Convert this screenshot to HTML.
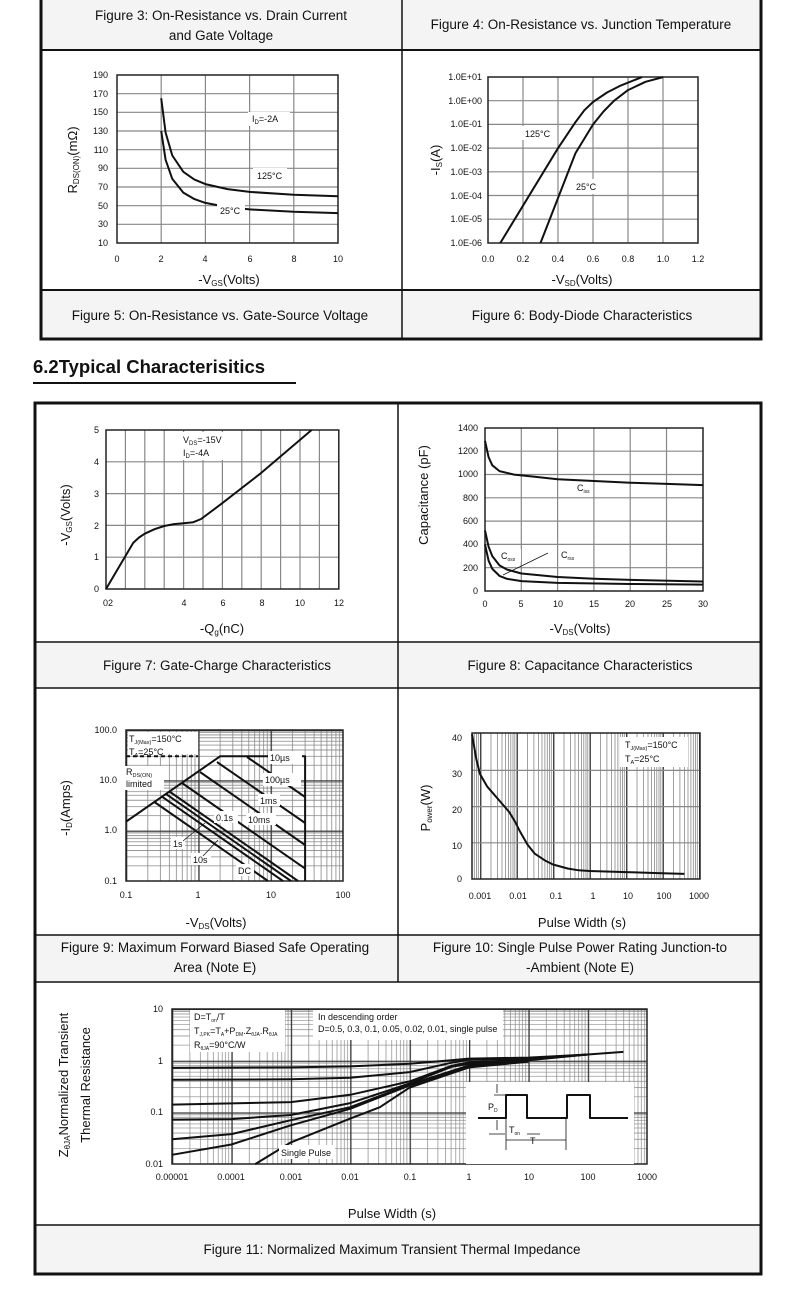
<!DOCTYPE html>
<html><head><meta charset="utf-8">
<style>
html,body{margin:0;padding:0;background:#fff;}
svg{display:block;font-family:"Liberation Sans",Arial,sans-serif;}
.t{font-size:9px;fill:#111;}
.c{font-size:13.5px;fill:#111;text-anchor:middle;}
.a{font-size:13px;fill:#111;text-anchor:middle;}
.k{fill:none;stroke:#111;stroke-width:2;stroke-linejoin:round;}
.g{fill:none;stroke:#888;stroke-width:1.2;}
.w{fill:#fff;}
</style></head>
<body>
<svg width="790" height="1297" viewBox="0 0 790 1297" xmlns="http://www.w3.org/2000/svg">
<defs>
<pattern id="p9" patternUnits="userSpaceOnUse" x="126" y="730" width="72.3" height="50.3">
<path d="M21.8 0V50.3M34.5 0V50.3M43.5 0V50.3M50.5 0V50.3M56.3 0V50.3M61.1 0V50.3M65.3 0V50.3M69 0V50.3M0 2.3H72.3M0 4.9H72.3M0 7.8H72.3M0 11.2H72.3M0 15.1H72.3M0 20H72.3M0 26.3H72.3M0 35.2H72.3" stroke="#888" stroke-width="0.8" fill="none"/>
<path d="M0.6 0V50.3M0 0.6H72.3" stroke="#333" stroke-width="1.4" fill="none"/>
</pattern>
<pattern id="p10" patternUnits="userSpaceOnUse" x="443.5" y="733" width="36.5" height="146">
<path d="M11 0V146M17.4 0V146M22 0V146M25.5 0V146M28.4 0V146M30.8 0V146M33 0V146M34.8 0V146" stroke="#888" stroke-width="0.8" fill="none"/>
<path d="M0.7 0V146" stroke="#444" stroke-width="1.5" fill="none"/>
</pattern>
<pattern id="p11" patternUnits="userSpaceOnUse" x="172" y="1009" width="59.4" height="51.7">
<path d="M17.9 0V51.7M28.3 0V51.7M35.8 0V51.7M41.5 0V51.7M46.2 0V51.7M50.2 0V51.7M53.6 0V51.7M56.7 0V51.7M0 2.4H59.4M0 5H59.4M0 8H59.4M0 11.5H59.4M0 15.6H59.4M0 20.6H59.4M0 27H59.4M0 36.1H59.4" stroke="#888" stroke-width="0.7" fill="none"/>
<path d="M0.6 0V51.7M0 0.6H59.4" stroke="#333" stroke-width="1.4" fill="none"/>
</pattern>
</defs>
<rect width="790" height="1297" fill="#fff"/>
<rect x="40" y="0" width="722" height="50" fill="#f4f4f4"/>
<rect x="40" y="290" width="722" height="50" fill="#f4f4f4"/>
<rect x="34" y="642" width="728" height="46" fill="#f4f4f4"/>
<rect x="34" y="935" width="728" height="47" fill="#f4f4f4"/>
<rect x="34" y="1225" width="728" height="50" fill="#f4f4f4"/>

<!-- grids -->
<path class="g" d="M161.2 75V243M205.4 75V243M249.6 75V243M293.8 75V243M117 93.7H338M117 112.3H338M117 131H338M117 149.7H338M117 168.3H338M117 187H338M117 205.7H338M117 224.3H338"/>
<rect x="117" y="75" width="221" height="168" fill="none" stroke="#222" stroke-width="1.5"/>
<path class="g" d="M523 77V243M558 77V243M593 77V243M628 77V243M663 77V243M488 100.7H698M488 124.4H698M488 148.1H698M488 171.8H698M488 195.5H698M488 219.2H698"/>
<rect x="488" y="77" width="210" height="166" fill="none" stroke="#222" stroke-width="1.5"/>
<path class="g" stroke="#777" stroke-width="1.3" d="M125.4 430V589M144.8 430V589M164.2 430V589M183.6 430V589M203 430V589M222.4 430V589M241.8 430V589M261.2 430V589M280.6 430V589M300 430V589M319.4 430V589M106 557.2H338.8M106 525.4H338.8M106 493.6H338.8M106 461.8H338.8"/>
<rect x="106" y="430" width="232.8" height="159" fill="none" stroke="#222" stroke-width="1.5"/>
<path class="g" d="M521.3 428V591M557.6 428V591M593.9 428V591M630.2 428V591M666.5 428V591M485 567.7H703M485 544.4H703M485 521.1H703M485 497.8H703M485 474.5H703M485 451.2H703"/>
<rect x="485" y="428" width="218" height="163" fill="none" stroke="#222" stroke-width="1.5"/>
<rect x="126" y="730" width="217" height="151" fill="url(#p9)"/>
<rect x="126" y="730" width="217" height="151" fill="none" stroke="#222" stroke-width="1.5"/>
<rect x="472" y="733" width="228" height="146" fill="url(#p10)"/>
<path class="g" d="M472 842.8H700M472 806.6H700M472 770.4H700"/>
<rect x="472" y="733" width="228" height="146" fill="none" stroke="#222" stroke-width="1.5"/>
<rect x="172" y="1009" width="475" height="155" fill="url(#p11)"/>
<rect x="172" y="1009" width="475" height="155" fill="none" stroke="#222" stroke-width="1.5"/>

<!-- frames -->
<g fill="none" stroke="#111">
<rect x="41" y="-2" width="720" height="341" stroke-width="3"/>
<line x1="402" y1="0" x2="402" y2="340" stroke-width="1.5"/>
<line x1="40" y1="50" x2="762" y2="50" stroke-width="2"/>
<line x1="40" y1="290" x2="762" y2="290" stroke-width="2"/>
<rect x="35" y="403" width="726" height="871" stroke-width="3"/>
<line x1="398" y1="403" x2="398" y2="982" stroke-width="1.5"/>
<line x1="34" y1="642" x2="762" y2="642" stroke-width="1.5"/>
<line x1="34" y1="688" x2="762" y2="688" stroke-width="1.5"/>
<line x1="34" y1="935" x2="762" y2="935" stroke-width="1.5"/>
<line x1="34" y1="982" x2="762" y2="982" stroke-width="1.5"/>
<line x1="34" y1="1225" x2="762" y2="1225" stroke-width="1.5"/>
</g>

<!-- curves -->
<path class="k" d="M161.2 98.3L165.6 132.6L172.3 155.5L183.3 171.8L194.4 179.6L205.4 184.1L227.5 189.1L249.6 191.9L293.8 194.8L338 196.3"/>
<path class="k" d="M161.2 131L165.6 159.8L172.3 178.9L183.3 192.6L194.4 199.1L205.4 202.9L227.5 207.1L249.6 209.4L293.8 211.8L338 213.1"/>
<path class="k" d="M500.3 243L558 148.2L575.5 122.1L584.3 110.3L593 102L607 92.5L621 85.4L642 77.1"/>
<path class="k" d="M540.5 243L575.5 153.1L593 124.5L603.5 111.5L614 100.8L628 90.1L645.5 81.8L663 77.1"/>
<path class="k" stroke-width="1.8" d="M106 589L133.2 542.9L139 537.5L144.8 533.7L154.5 529.2L164.2 526L173.9 524.1L183.6 523.2L193.3 522.2L201.1 519L222.4 503.1L261.2 472.9L311.6 430"/>
<path class="k" d="M485 440.8L488.6 457.1L492.3 465.3L499.5 471.1L514.1 474.6L535.9 476.9L557.7 479.3L594.1 481L630.4 482.7L666.8 483.9L703.1 485.1"/>
<path class="k" d="M485 530.5L488.6 546.8L492.3 556.1L499.5 565.4L506.8 569.5L521.4 573.5L557.7 577L594.1 578.8L630.4 579.9L703.1 581.5"/>
<path class="k" d="M485 544.4L488.6 560.7L492.3 568.9L499.5 575.9L506.8 578.8L521.4 581.1L557.7 582.9L630.4 584L703.1 584.6"/>
<line x1="503" y1="575" x2="548" y2="553" stroke="#111" stroke-width="0.7"/>
<!-- fig9 -->
<path class="k" stroke-dasharray="4,3" d="M126 756.3H198"/>
<path class="k" stroke-width="2.4" d="M126 821.7L220.1 756.3H305.1V881"/>
<path class="k" d="M247 757L305.1 797M217 762L305.1 823M200 772L305.1 845M182 783L305.1 868.6M169.4 791.5L298 881M165.9 793.9L291 881M162 796.7L283 881M154.4 802L268 881"/>
<!-- fig10 -->
<path class="k" stroke-width="1.8" d="M472 734.2L476.4 759.5L480 774L487.3 786.7L498.3 799.4L509.2 812L514.7 821.1L520.2 831.9L527.5 844.6L534.8 853.7L545.7 860.9L553 864.5L567.6 868.5L578.6 870.3L589.5 871L626 872.1L662.5 873.2L684.4 873.9"/>
<!-- fig11 -->
<g class="k" stroke-width="1.8">
<path d="M172 1067.9L290.8 1067.4L350.2 1066.4L409.6 1063.8L451.2 1060.2L469 1058.6L528.4 1057.6L587.8 1054.5L623.4 1051.9"/>
<path d="M172 1079.8L290.8 1079.3L350.2 1077.8L409.6 1072.1L451.2 1062.8L469 1059.7L528.4 1058.6L587.8 1054.5"/>
<path d="M172 1104.6L290.8 1102.1L350.2 1094.8L409.6 1081.4L451.2 1065.9L469 1062.3L528.4 1059.7L587.8 1054.5"/>
<path d="M172 1119.6L231.4 1119.1L290.8 1115L350.2 1103.1L409.6 1083.5L451.2 1066.9L469 1063.8L528.4 1060.2L587.8 1054.5"/>
<path d="M172 1139.3L231.4 1134.1L290.8 1120.2L350.2 1107.2L409.6 1084.5L469 1065.4L528.4 1060.7"/>
<path d="M172 1154.8L231.4 1144.5L290.8 1125.3L350.2 1108.8L409.6 1085.5L469 1066.4L528.4 1060.7"/>
<path d="M255.2 1164.1L290.8 1142.4L350.2 1118.6L379.9 1107.2L409.6 1087.6L469 1067.4L528.4 1061.7"/>
</g>

<!-- white label boxes -->
<rect class="w" x="248" y="112" width="42" height="14"/>
<rect class="w" x="253" y="168" width="34" height="14"/>
<rect class="w" x="217" y="203" width="28" height="12"/>
<rect class="w" x="522" y="126" width="32" height="14"/>
<rect class="w" x="573" y="179" width="40" height="15"/>
<rect class="w" x="180" y="432" width="50" height="28"/>
<rect class="w" x="499" y="549" width="22" height="13"/>
<rect class="w" x="559" y="548" width="22" height="13"/>
<rect class="w" x="128" y="732" width="70" height="22"/>
<rect class="w" x="124" y="766" width="40" height="24"/>
<rect class="w" x="268" y="751" width="34" height="13"/>
<rect class="w" x="263" y="773" width="38" height="13"/>
<rect class="w" x="258" y="794" width="22" height="12"/>
<rect class="w" x="214" y="811" width="24" height="12"/>
<rect class="w" x="246" y="813" width="30" height="12"/>
<rect class="w" x="171" y="837" width="14" height="12"/>
<rect class="w" x="191" y="853" width="20" height="12"/>
<rect class="w" x="236" y="864" width="18" height="12"/>
<line x1="183" y1="841" x2="205" y2="823" stroke="#111" stroke-width="0.7"/>
<line x1="203" y1="856" x2="218" y2="840" stroke="#111" stroke-width="0.7"/>
<rect class="w" x="620" y="737" width="68" height="30"/>
<rect class="w" x="190" y="1010" width="95" height="42"/>
<rect class="w" x="313" y="1010" width="190" height="30"/>
<rect class="w" x="279" y="1145" width="56" height="14"/>
<rect class="w" x="466" y="1082" width="168" height="82"/>
<path class="k" stroke-width="1.8" d="M478 1118H506V1095H527V1118H567V1095H590V1118H628"/>
<path fill="none" stroke="#111" stroke-width="0.8" d="M494 1095H506M497 1084V1093M497 1120V1130M489 1134H505M527 1134H540M506 1140H566M506 1118V1150M566 1118V1150"/>

<!-- captions -->
<text class="c" x="221" y="20">Figure 3: On-Resistance vs. Drain Current</text>
<text class="c" x="221" y="40">and Gate Voltage</text>
<text class="c" x="581" y="29">Figure 4: On-Resistance vs. Junction Temperature</text>
<text class="c" x="220" y="320">Figure 5: On-Resistance vs. Gate-Source Voltage</text>
<text class="c" x="582" y="320">Figure 6: Body-Diode Characteristics</text>
<text class="c" x="217" y="670">Figure 7: Gate-Charge Characteristics</text>
<text class="c" x="580" y="670">Figure 8: Capacitance Characteristics</text>
<text class="c" x="215" y="952">Figure 9: Maximum Forward Biased Safe Operating</text>
<text class="c" x="215" y="972">Area (Note E)</text>
<text class="c" x="580" y="952">Figure 10: Single Pulse Power Rating Junction-to</text>
<text class="c" x="580" y="972">-Ambient (Note E)</text>
<text class="c" x="392" y="1254">Figure 11: Normalized Maximum Transient Thermal Impedance</text>

<!-- fig3 labels -->
<g class="t" text-anchor="end">
<text x="108" y="78">190</text><text x="108" y="97">170</text><text x="108" y="115">150</text><text x="108" y="134">130</text><text x="108" y="153">110</text><text x="108" y="171">90</text><text x="108" y="190">70</text><text x="108" y="209">50</text><text x="108" y="227">30</text><text x="108" y="246">10</text>
</g>
<g class="t" text-anchor="middle">
<text x="117" y="262">0</text><text x="161" y="262">2</text><text x="205" y="262">4</text><text x="250" y="262">6</text><text x="294" y="262">8</text><text x="338" y="262">10</text>
</g>
<text class="a" x="229" y="284">-V<tspan font-size="8" dy="2">GS</tspan><tspan dy="-2">(Volts)</tspan></text>
<text class="a" transform="translate(77,160) rotate(-90)">R<tspan font-size="8" dy="2">DS(ON)</tspan><tspan dy="-2">(mΩ)</tspan></text>
<text class="t" x="252" y="122">I<tspan font-size="6" dy="2">D</tspan><tspan dy="-2">=-2A</tspan></text>
<text class="t" x="257" y="179">125°C</text>
<text class="t" x="220" y="214">25°C</text>

<!-- fig4 labels -->
<g class="t" font-size="8" text-anchor="end">
<text x="482" y="80">1.0E+01</text><text x="482" y="104">1.0E+00</text><text x="482" y="127">1.0E-01</text><text x="482" y="151">1.0E-02</text><text x="482" y="175">1.0E-03</text><text x="482" y="199">1.0E-04</text><text x="482" y="222">1.0E-05</text><text x="482" y="246">1.0E-06</text>
</g>
<g class="t" text-anchor="middle">
<text x="488" y="262">0.0</text><text x="523" y="262">0.2</text><text x="558" y="262">0.4</text><text x="593" y="262">0.6</text><text x="628" y="262">0.8</text><text x="663" y="262">1.0</text><text x="698" y="262">1.2</text>
</g>
<text class="a" x="582" y="284">-V<tspan font-size="8" dy="2">SD</tspan><tspan dy="-2">(Volts)</tspan></text>
<text class="a" transform="translate(440,160) rotate(-90)">-I<tspan font-size="8" dy="2">S</tspan><tspan dy="-2">(A)</tspan></text>
<text class="t" x="525" y="137">125°C</text>
<text class="t" x="576" y="190">25°C</text>

<!-- heading -->
<text x="33" y="373" font-size="18.5" font-weight="bold" fill="#111">6.2Typical Characterisitics</text>
<line x1="33" y1="383" x2="296" y2="383" stroke="#111" stroke-width="2"/>

<!-- fig7 -->
<g class="t" text-anchor="end">
<text x="99" y="433">5</text><text x="99" y="465">4</text><text x="99" y="497">3</text><text x="99" y="529">2</text><text x="99" y="560">1</text><text x="99" y="592">0</text>
</g>
<g class="t" text-anchor="middle">
<text x="108" y="606">02</text><text x="184" y="606">4</text><text x="223" y="606">6</text><text x="262" y="606">8</text><text x="300" y="606">10</text><text x="339" y="606">12</text>
</g>
<text class="a" x="222" y="633">-Q<tspan font-size="8" dy="2">g</tspan><tspan dy="-2">(nC)</tspan></text>
<text class="a" transform="translate(70,515) rotate(-90)">-V<tspan font-size="8" dy="2">GS</tspan><tspan dy="-2">(Volts)</tspan></text>
<text class="t" x="183" y="443">V<tspan font-size="6" dy="2">DS</tspan><tspan dy="-2">=-15V</tspan></text>
<text class="t" x="183" y="456">I<tspan font-size="6" dy="2">D</tspan><tspan dy="-2">=-4A</tspan></text>

<!-- fig8 -->
<g class="t" font-size="8.5" text-anchor="end">
<text x="478" y="431">1400</text><text x="478" y="454">1200</text><text x="478" y="477">1000</text><text x="478" y="501">800</text><text x="478" y="524">600</text><text x="478" y="547">400</text><text x="478" y="571">200</text><text x="478" y="594">0</text>
</g>
<g class="t" text-anchor="middle">
<text x="485" y="607">0</text><text x="521" y="607">5</text><text x="558" y="607">10</text><text x="594" y="607">15</text><text x="630" y="607">20</text><text x="667" y="607">25</text><text x="703" y="607">30</text>
</g>
<text class="a" x="580" y="633">-V<tspan font-size="8" dy="2">DS</tspan><tspan dy="-2">(Volts)</tspan></text>
<text class="a" transform="translate(428,495) rotate(-90)">Capacitance (pF)</text>
<text class="t" x="577" y="491">C<tspan font-size="5" dy="2">iss</tspan></text>
<text class="t" x="501" y="559">C<tspan font-size="5" dy="2">oss</tspan></text>
<text class="t" x="561" y="558">C<tspan font-size="5" dy="2">rss</tspan></text>

<!-- fig9 -->
<g class="t" text-anchor="end">
<text x="117" y="733">100.0</text><text x="117" y="783">10.0</text><text x="117" y="833">1.0</text><text x="117" y="884">0.1</text>
</g>
<g class="t" font-size="8.5" text-anchor="middle">
<text x="126" y="898">0.1</text><text x="198" y="898">1</text><text x="271" y="898">10</text><text x="343" y="898">100</text>
</g>
<text class="a" x="216" y="927">-V<tspan font-size="8" dy="2">DS</tspan><tspan dy="-2">(Volts)</tspan></text>
<text class="a" transform="translate(70,808) rotate(-90)">-I<tspan font-size="8" dy="2">D</tspan><tspan dy="-2">(Amps)</tspan></text>
<text class="t" x="129" y="742" font-size="8.5">T<tspan font-size="5.5" dy="2">J(Max)</tspan><tspan dy="-2">=150°C</tspan></text>
<text class="t" x="129" y="755" font-size="8.5">T<tspan font-size="5.5" dy="2">A</tspan><tspan dy="-2">=25°C</tspan></text>
<text class="t" x="126" y="775">R<tspan font-size="5.5" dy="2">DS(ON)</tspan></text>
<text class="t" x="126" y="787">limited</text>
<text class="t" x="270" y="761">10µs</text>
<text class="t" x="265" y="783">100µs</text>
<text class="t" x="260" y="804">1ms</text>
<text class="t" x="216" y="821">0.1s</text>
<text class="t" x="248" y="823">10ms</text>
<text class="t" x="173" y="847">1s</text>
<text class="t" x="193" y="863">10s</text>
<text class="t" x="238" y="874">DC</text>

<!-- fig10 -->
<g class="t" text-anchor="end">
<text x="462" y="741">40</text><text x="462" y="777">30</text><text x="462" y="813">20</text><text x="462" y="849">10</text><text x="462" y="882">0</text>
</g>
<g class="t" font-size="8" text-anchor="middle">
<text x="480" y="899">0.001</text><text x="518" y="899">0.01</text><text x="556" y="899">0.1</text><text x="593" y="899">1</text><text x="628" y="899">10</text><text x="664" y="899">100</text><text x="699" y="899">1000</text>
</g>
<text class="a" x="582" y="927">Pulse Width (s)</text>
<text class="a" transform="translate(430,808) rotate(-90)">P<tspan font-size="8" dy="2">ower</tspan><tspan dy="-2">(W)</tspan></text>
<text class="t" x="625" y="748">T<tspan font-size="5.5" dy="2">J(Max)</tspan><tspan dy="-2">=150°C</tspan></text>
<text class="t" x="625" y="762">T<tspan font-size="5.5" dy="2">A</tspan><tspan dy="-2">=25°C</tspan></text>

<!-- fig11 -->
<g class="t" font-size="8" text-anchor="end">
<text x="163" y="1012">10</text><text x="163" y="1064">1</text><text x="163" y="1115">0.1</text><text x="163" y="1167">0.01</text>
</g>
<g class="t" font-size="8" text-anchor="middle">
<text x="172" y="1180">0.00001</text><text x="231" y="1180">0.0001</text><text x="291" y="1180">0.001</text><text x="350" y="1180">0.01</text><text x="410" y="1180">0.1</text><text x="469" y="1180">1</text><text x="529" y="1180">10</text><text x="588" y="1180">100</text><text x="647" y="1180">1000</text>
</g>
<text class="a" x="392" y="1218">Pulse Width (s)</text>
<text class="a" transform="translate(68,1085) rotate(-90)">Z<tspan font-size="8" dy="2">θJA</tspan><tspan dy="-2">Normalized Transient</tspan></text>
<text class="a" transform="translate(90,1085) rotate(-90)">Thermal Resistance</text>
<text class="t" x="194" y="1020" font-size="8">D=T<tspan font-size="5" dy="2">on</tspan><tspan dy="-2">/T</tspan></text>
<text class="t" x="194" y="1034" font-size="8">T<tspan font-size="5" dy="2">J,PK</tspan><tspan dy="-2">=T</tspan><tspan font-size="5" dy="2">A</tspan><tspan dy="-2">+P</tspan><tspan font-size="5" dy="2">DM</tspan><tspan dy="-2">.Z</tspan><tspan font-size="5" dy="2">θJA</tspan><tspan dy="-2">.R</tspan><tspan font-size="5" dy="2">θJA</tspan></text>
<text class="t" x="194" y="1048" font-size="8">R<tspan font-size="5" dy="2">θJA</tspan><tspan dy="-2">=90°C/W</tspan></text>
<text class="t" x="318" y="1020" font-size="8">In descending order</text>
<text class="t" x="318" y="1032" font-size="8">D=0.5, 0.3, 0.1, 0.05, 0.02, 0.01, single pulse</text>
<text class="t" x="281" y="1156" font-size="8">Single Pulse</text>
<text class="t" x="488" y="1110" font-size="8">P<tspan font-size="5" dy="2">D</tspan></text>
<text class="t" x="509" y="1133" font-size="8">T<tspan font-size="5" dy="2">on</tspan></text>
<text class="t" x="530" y="1144" font-size="8">T</text>
</svg>
</body></html>
